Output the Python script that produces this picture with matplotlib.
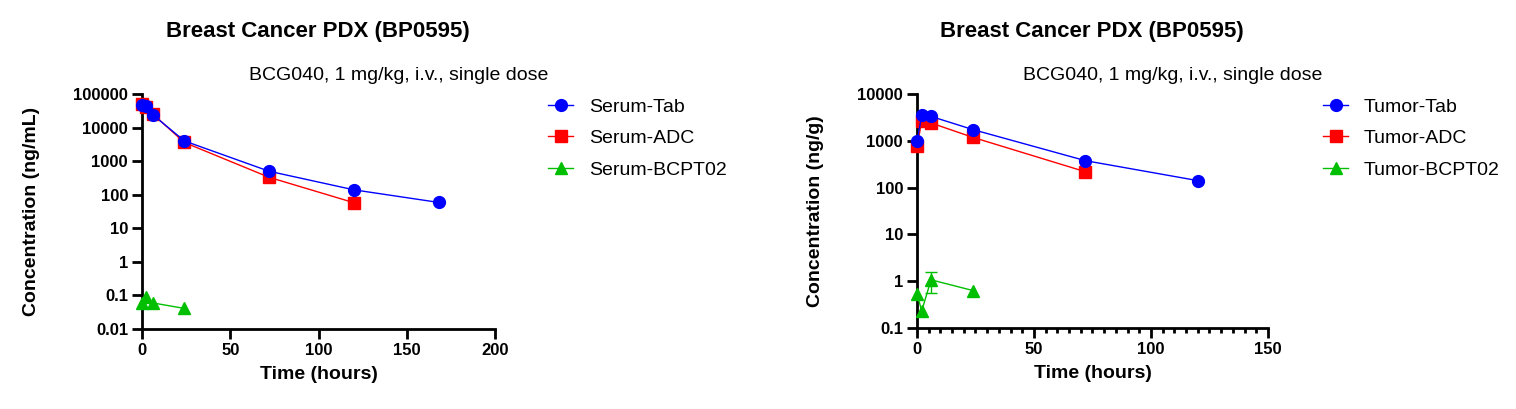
import numpy as np
import matplotlib
matplotlib.use("Agg")
import matplotlib.pyplot as plt
from matplotlib.ticker import FixedLocator, FixedFormatter, MultipleLocator, NullLocator

plt.rcParams['font.family'] = ['Liberation Sans', 'DejaVu Sans']

# data
title = "Breast Cancer PDX (BP0595)"
subtitle = "BCG040, 1 mg/kg, i.v., single dose"

serum_tab_t = [0.083, 2, 6, 24, 72, 120, 168]
serum_tab = [48000, 42500, 24500, 4000, 500, 140, 59]
serum_adc_t = [0.083, 2, 6, 24, 72, 120]
serum_adc = [50000, 42000, 25500, 3600, 330, 58]
serum_pl_t = [0.083, 2, 6, 24]
serum_pl = [0.058, 0.092, 0.06, 0.041]

tumor_tab_t = [0.083, 2, 6, 24, 72, 120]
tumor_tab = [1000, 3480, 3320, 1730, 376, 141]
tumor_adc_t = [0.083, 2, 6, 24, 72]
tumor_adc = [785, 2600, 2400, 1180, 218]
tumor_pl_t = [0.083, 2, 6, 24]
tumor_pl = [0.53, 0.23, 1.07, 0.63]
tumor_pl_sd = [0, 0, 0.5, 0]

blue = '#0000FF'
red = '#FF0000'
green = '#00BF00'

fig = plt.figure(figsize=(15.16, 4.09), dpi=100)
W, H = 1516, 409

def make_axes(x0, x1, y0, y1):
    return fig.add_axes([x0 / W, 1 - y1 / H, (x1 - x0) / W, (y1 - y0) / H])

ax1 = make_axes(142, 495, 94, 329)
ax2 = make_axes(917, 1268, 94, 328)

def style(ax, xmax, ymin, ymax, ylabel, minor):
    ax.set_yscale('log')
    ax.set_xlim(0, xmax)
    ax.set_ylim(ymin, ymax)
    for s in ['top', 'right']:
        ax.spines[s].set_visible(False)
    for s in ['left', 'bottom']:
        ax.spines[s].set_linewidth(2.0)
    decades = 10.0 ** np.arange(np.log10(ymin), np.log10(ymax) + 0.5)
    labels = [('%g' % d) if d < 1 else str(int(d)) for d in decades]
    ax.yaxis.set_major_locator(FixedLocator(decades))
    ax.yaxis.set_major_formatter(FixedFormatter(labels))
    ax.yaxis.set_minor_locator(NullLocator())
    ax.xaxis.set_major_locator(MultipleLocator(50))
    if minor:
        ax.xaxis.set_minor_locator(MultipleLocator(5))
    ax.tick_params(which='major', length=7, width=2.0, labelsize=12, pad=3)
    ax.tick_params(which='minor', length=3.5, width=2.0)
    for lab in ax.get_xticklabels() + ax.get_yticklabels():
        lab.set_fontweight('bold')
    ax.set_xlabel("Time (hours)", fontsize=14, fontweight='bold', labelpad=6)
    ax.set_ylabel(ylabel, fontsize=14, fontweight='bold', labelpad=24)

def series(ax, t, y, color, marker, label, z, ms=8.5):
    ax.plot(t, y, color=color, marker=marker, markersize=ms, linewidth=1.0,
            label=label, zorder=z, clip_on=False)

series(ax1, serum_tab_t, serum_tab, blue, 'o', 'Serum-Tab', 4)
series(ax1, serum_adc_t, serum_adc, red, 's', 'Serum-ADC', 3, ms=8)
series(ax1, serum_pl_t, serum_pl, green, '^', 'Serum-BCPT02', 3)

series(ax2, tumor_tab_t, tumor_tab, blue, 'o', 'Tumor-Tab', 4)
series(ax2, tumor_adc_t, tumor_adc, red, 's', 'Tumor-ADC', 3, ms=8)
series(ax2, tumor_pl_t, tumor_pl, green, '^', 'Tumor-BCPT02', 3)
idx = [i for i, s in enumerate(tumor_pl_sd) if s > 0]
ax2.errorbar([tumor_pl_t[i] for i in idx], [tumor_pl[i] for i in idx],
             yerr=[tumor_pl_sd[i] for i in idx], fmt='none', ecolor=green,
             elinewidth=1.0, capsize=4, capthick=1.0, zorder=2)

style(ax1, 200, 0.01, 100000, "Concentration (ng/mL)", False)
style(ax2, 150, 0.1, 10000, "Concentration (ng/g)", True)

for cx, sx in [(318, 399), (1092, 1173)]:
    fig.text(cx / W, 1 - 31 / H, title, ha='center', va='center',
             fontsize=16, fontweight='bold')
    fig.text(sx / W, 1 - 76 / H, subtitle, ha='center', va='center', fontsize=14)

for ax, lx in [(ax1, 548), (ax2, 1323)]:
    ax.legend(loc='upper left', bbox_to_anchor=(lx / W, 1 - 98 / H),
              bbox_transform=fig.transFigure, frameon=False, fontsize=14,
              borderpad=0, borderaxespad=0, handlelength=1.3,
              handletextpad=0.8, labelspacing=0.72)

fig.savefig("out.png", dpi=100)
